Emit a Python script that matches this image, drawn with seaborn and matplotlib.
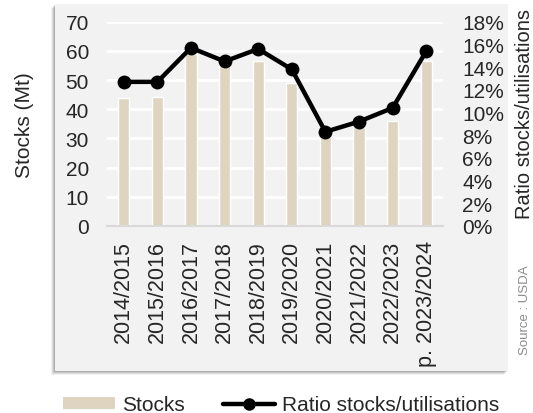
import numpy as np
import pandas as pd
import matplotlib
matplotlib.use("Agg")
import matplotlib.pyplot as plt
from matplotlib.patches import Rectangle, Patch
from matplotlib.lines import Line2D
import seaborn as sns

# --- data ---
seasons = ['2014/2015', '2015/2016', '2016/2017', '2017/2018', '2018/2019',
           '2019/2020', '2020/2021', '2021/2022', '2022/2023', 'p. 2023/2024']
stocks_mt = [44.0, 44.3, 58.9, 55.0, 56.6, 48.9, 30.5, 34.0, 36.0, 56.6]
ratio_pct = [12.7, 12.7, 15.7, 14.5, 15.6, 13.8, 8.3, 9.2, 10.4, 15.4]
left_ticks = [0, 10, 20, 30, 40, 50, 60, 70]
right_ticks = [0, 2, 4, 6, 8, 10, 12, 14, 16, 18]

df = pd.DataFrame({'season': seasons, 'stocks': stocks_mt,
                   'ratio': ratio_pct, 'pos': np.arange(len(seasons))})

sns.set_theme(style='white')
plt.rcParams['font.family'] = ['Liberation Sans', 'DejaVu Sans']
plt.rcParams['font.size'] = 15

bar_color = '#ded4c0'
W, H = 533, 414

fig = plt.figure(figsize=(W / 100, H / 100), dpi=100)
fig.patch.set_facecolor('white')

# grey panel with a soft shadow
px0, px1, py0, py1 = 55, 508, 5, 372
for off, a in [(4, 0.06), (3, 0.08), (2, 0.10), (1, 0.12)]:
    fig.add_artist(Rectangle(((px0 - off) / W, 1 - (py1 + off) / H),
                             (px1 - px0) / W, (py1 - py0) / H,
                             transform=fig.transFigure, facecolor='black',
                             alpha=a, edgecolor='none', zorder=-3))
fig.add_artist(Rectangle((px0 / W, 1 - py1 / H), (px1 - px0) / W, (py1 - py0) / H,
                         transform=fig.transFigure, facecolor='#f2f2f2',
                         edgecolor='none', zorder=-2))

ax = fig.add_axes([107 / W, 1 - 227 / H, (443 - 107) / W, (227 - 22.7) / H])
ax.set_facecolor('none')

sns.barplot(data=df, x='season', y='stocks', ax=ax, color=bar_color,
            width=0.33, saturation=1, zorder=2)
ax.set_ylim(0, 70)
ax.set_yticks(left_ticks)
ax.set_xlim(-0.5, len(seasons) - 0.5)
ax.grid(axis='y', color='white', linewidth=2, zorder=0)
ax.set_axisbelow(True)
ax.set_xlabel('')
ax.set_ylabel('')
ax.tick_params(axis='y', length=0, pad=13, labelsize=15)
ax.tick_params(axis='x', length=0, pad=10, labelsize=15.5, rotation=90)
for s in ['top', 'left', 'right']:
    ax.spines[s].set_visible(False)
ax.spines['bottom'].set_color('#d9d9d9')
ax.spines['bottom'].set_linewidth(1.5)

ax2 = ax.twinx()
sns.lineplot(data=df, x='pos', y='ratio', ax=ax2, color='black',
             linewidth=3.2, marker='o', markersize=10, markeredgewidth=0)
ax2.set_ylim(0, 18)
ax2.set_yticks(right_ticks)
ax2.set_yticklabels([f'{t}%' for t in right_ticks])
ax2.set_ylabel('')
ax2.set_xlabel('')
ax2.tick_params(axis='y', length=0, pad=14, labelsize=15)
for s in ax2.spines.values():
    s.set_visible(False)
ax.set_xlim(-0.5, len(seasons) - 0.5)

fig.text(24 / W, 1 - 125 / H, 'Stocks (Mt)', rotation=90, ha='center',
         va='center', fontsize=15)
fig.text(525 / W, 1 - 114 / H, 'Ratio stocks/utilisations', rotation=90,
         ha='center', va='center', fontsize=14.5)
fig.text(525 / W, 1 - 310 / H, 'Source : USDA', rotation=90, ha='center',
         va='center', fontsize=9.5, color='#8c8c8c')

handles = [Patch(facecolor=bar_color, edgecolor='none', label='Stocks'),
           Line2D([0], [0], color='black', linewidth=3.2, marker='o',
                  markersize=8, label='Ratio stocks/utilisations')]
fig.legend(handles=handles, loc='center', bbox_to_anchor=(281 / W, 1 - 406 / H),
           ncol=2, frameon=False, fontsize=15, handlelength=2.5,
           handleheight=0.5, handletextpad=0.35, columnspacing=1.8,
           borderpad=0)

fig.savefig('out.png', dpi=100)
